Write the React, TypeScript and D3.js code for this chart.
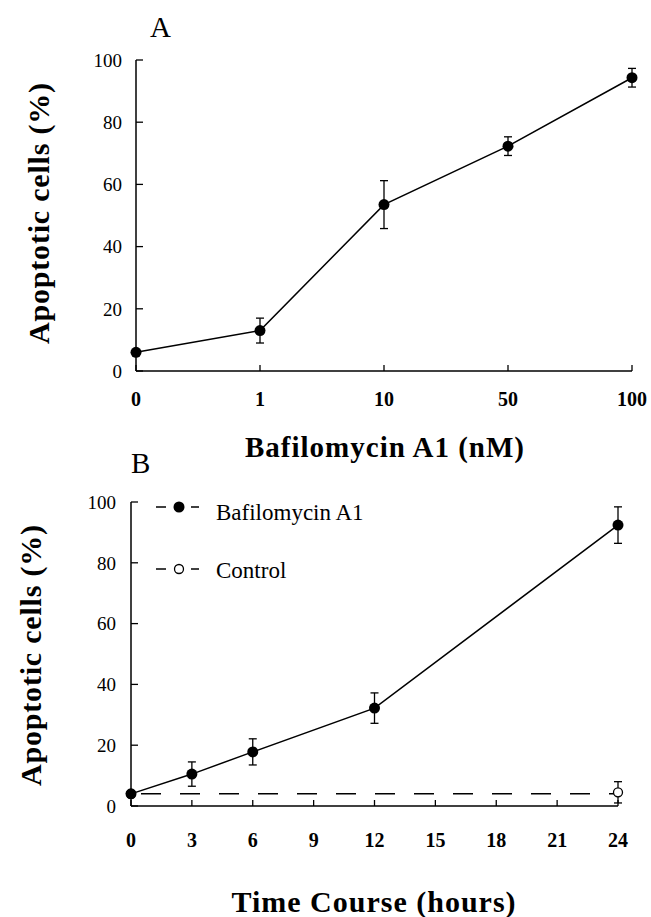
import React from "react";
import * as d3 from "d3";

const doseCategories = ["0", "1", "10", "50", "100"];
const doseMeans = [6, 13, 53.5, 72.3, 94.3];
const doseErrors = [0, 4, 7.7, 3, 3];

const timeHours = [0, 3, 6, 12, 24];
const bafMeans = [4, 10.5, 17.8, 32.2, 92.4];
const bafErrors = [0, 4, 4.3, 5, 6];

const controlHours = [0, 24];
const controlMeans = [4, 4.5];
const controlErrors = [0, 3.5];

const yTicks = [0, 20, 40, 60, 80, 100];
const timeTicks = [0, 3, 6, 9, 12, 15, 18, 21, 24];

const SERIF = "'Liberation Serif', 'Times New Roman', serif";

export default function App() {
  // Panel A scales
  const xA = d3.scalePoint<string>().domain(doseCategories).range([136, 632]);
  const yA = d3.scaleLinear().domain([0, 100]).range([371, 60]);
  // Panel B scales
  const xB = d3.scaleLinear().domain([0, 24]).range([131, 618]);
  const yB = d3.scaleLinear().domain([0, 100]).range([806, 502]);

  const lineA = d3
    .line<number>()
    .x((_, i) => xA(doseCategories[i]) as number)
    .y((d) => yA(d));
  const lineB = d3
    .line<number>()
    .x((_, i) => xB(timeHours[i]))
    .y((d) => yB(d));
  const lineC = d3
    .line<number>()
    .x((_, i) => xB(controlHours[i]))
    .y((d) => yB(d));

  const errBar = (x: number, y0: number, y1: number, key: string) => (
    <g key={key} stroke="#000" strokeWidth={1.3}>
      <line x1={x} x2={x} y1={y0} y2={y1} />
      <line x1={x - 4} x2={x + 4} y1={y0} y2={y0} />
      <line x1={x - 4} x2={x + 4} y1={y1} y2={y1} />
    </g>
  );

  return (
    <svg width={651} height={917} style={{ position: "absolute", left: 0, top: 0, background: "#fff" }} fontFamily={SERIF}>
      <rect width={651} height={917} fill="#fff" />
      {/* ---------- Panel A ---------- */}
      <text x={150} y={37} fontSize={29}>A</text>
      <line x1={136} x2={136} y1={yA(100)} y2={yA(0)} stroke="#000" strokeWidth={1.5} />
      <line x1={136} x2={632} y1={yA(0)} y2={yA(0)} stroke="#000" strokeWidth={1.5} />
      {yTicks.map((t) => (
        <g key={"ya" + t}>
          <line x1={136} x2={143} y1={yA(t)} y2={yA(t)} stroke="#000" strokeWidth={1.3} />
          <text x={122} y={yA(t)} dy="0.36em" textAnchor="end" fontSize={19}>{t}</text>
        </g>
      ))}
      {doseCategories.map((c) => (
        <g key={"xa" + c}>
          <line x1={xA(c)} x2={xA(c)} y1={yA(0)} y2={yA(0) - 6} stroke="#000" strokeWidth={1.3} />
          <text x={xA(c)} y={406} textAnchor="middle" fontSize={20} fontWeight="bold">{c}</text>
        </g>
      ))}
      <text transform={`translate(49,213) rotate(-90)`} textAnchor="middle" fontSize={30} fontWeight="bold" letterSpacing={0.8}>
        Apoptotic cells (%)
      </text>
      <text x={385} y={457} textAnchor="middle" fontSize={29} fontWeight="bold" letterSpacing={1}>Bafilomycin A1 (nM)</text>
      <path d={lineA(doseMeans) ?? ""} fill="none" stroke="#000" strokeWidth={1.5} />
      {doseMeans.map((m, i) =>
        doseErrors[i] > 0
          ? errBar(xA(doseCategories[i]) as number, yA(m + doseErrors[i]), yA(m - doseErrors[i]), "ea" + i)
          : null
      )}
      {doseMeans.map((m, i) => (
        <circle key={"pa" + i} cx={xA(doseCategories[i])} cy={yA(m)} r={5.5} fill="#000" />
      ))}

      {/* ---------- Panel B ---------- */}
      <text x={131} y={473} fontSize={29}>B</text>
      <line x1={131} x2={131} y1={yB(100)} y2={yB(0)} stroke="#000" strokeWidth={1.5} />
      <line x1={131} x2={618} y1={yB(0)} y2={yB(0)} stroke="#000" strokeWidth={1.5} />
      {yTicks.map((t) => (
        <g key={"yb" + t}>
          <line x1={131} x2={138} y1={yB(t)} y2={yB(t)} stroke="#000" strokeWidth={1.3} />
          <text x={116} y={yB(t)} dy="0.36em" textAnchor="end" fontSize={19}>{t}</text>
        </g>
      ))}
      {timeTicks.map((t) => (
        <g key={"xb" + t}>
          <line x1={xB(t)} x2={xB(t)} y1={yB(0)} y2={yB(0) - 6} stroke="#000" strokeWidth={1.3} />
          <text x={xB(t)} y={847} textAnchor="middle" fontSize={20} fontWeight="bold">{t}</text>
        </g>
      ))}
      <text transform={`translate(41,655) rotate(-90)`} textAnchor="middle" fontSize={30} fontWeight="bold" letterSpacing={0.8}>
        Apoptotic cells (%)
      </text>
      <text x={374} y={912} textAnchor="middle" fontSize={30} fontWeight="bold" letterSpacing={1}>Time Course (hours)</text>

      {/* control dashed */}
      <path d={lineC(controlMeans.map(() => controlMeans[0])) ?? ""} fill="none" stroke="#000" strokeWidth={1.5} strokeDasharray="20,19" strokeDashoffset={-10} />
      {controlMeans.map((m, i) =>
        controlErrors[i] > 0
          ? errBar(xB(controlHours[i]), yB(m + controlErrors[i]), yB(m - controlErrors[i]), "ec" + i)
          : null
      )}
      {controlMeans.map((m, i) => (
        <circle key={"pc" + i} cx={xB(controlHours[i])} cy={yB(m)} r={4.5} fill="#fff" stroke="#000" strokeWidth={1.3} />
      ))}

      <path d={lineB(bafMeans) ?? ""} fill="none" stroke="#000" strokeWidth={1.5} />
      {bafMeans.map((m, i) =>
        bafErrors[i] > 0
          ? errBar(xB(timeHours[i]), yB(m + bafErrors[i]), yB(m - bafErrors[i]), "eb" + i)
          : null
      )}
      {bafMeans.map((m, i) => (
        <circle key={"pb" + i} cx={xB(timeHours[i])} cy={yB(m)} r={5.5} fill="#000" />
      ))}

      {/* legend */}
      <g stroke="#000" strokeWidth={1.5}>
        <line x1={156} x2={166} y1={507} y2={507} />
        <line x1={191} x2={199} y1={507} y2={507} />
        <line x1={156} x2={166} y1={569} y2={569} />
        <line x1={191} x2={199} y1={569} y2={569} />
      </g>
      <circle cx={179} cy={507} r={5.5} fill="#000" />
      <circle cx={179} cy={569} r={4.5} fill="#fff" stroke="#000" strokeWidth={1.3} />
      <text x={216} y={520} fontSize={23}>Bafilomycin A1</text>
      <text x={216} y={578} fontSize={23}>Control</text>
    </svg>
  );
}
